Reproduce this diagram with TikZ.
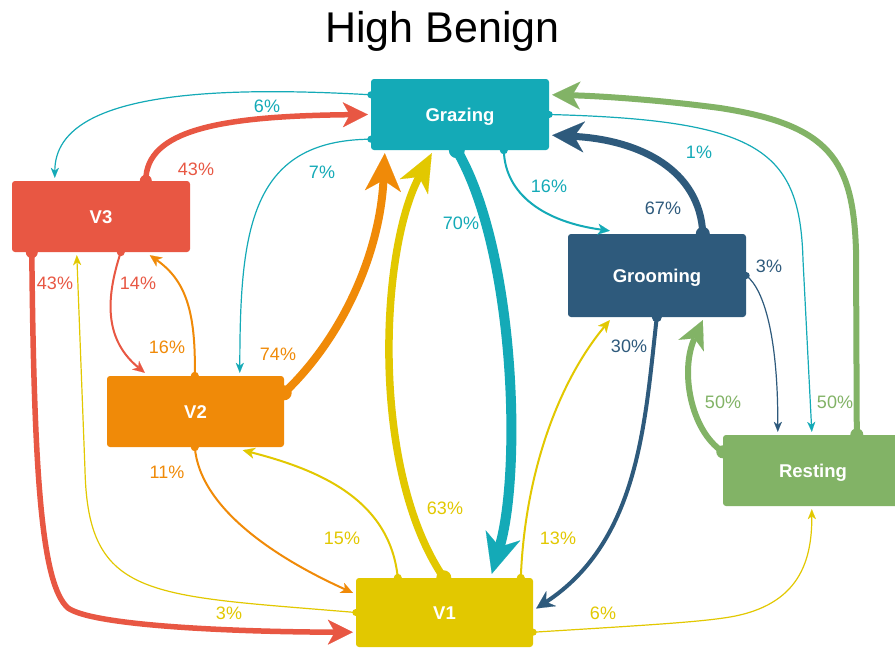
\documentclass[tikz,border=0pt]{standalone}
\usepackage{fontspec}
\setmainfont{Liberation Sans}
\usetikzlibrary{arrows.meta,calc}
\definecolor{cTeal}{HTML}{14AAB7}
\definecolor{cRed}{HTML}{E85743}
\definecolor{cOrange}{HTML}{F08A08}
\definecolor{cYellow}{HTML}{E2C800}
\definecolor{cBlue}{HTML}{2E5A7C}
\definecolor{cGreen}{HTML}{82B366}
\begin{document}
\begin{tikzpicture}[x=1pt,y=-1pt,
  box/.style={rounded corners=3pt, inner sep=0pt, text=white, font=\fontsize{18.5}{22}\selectfont\bfseries, text height=13.2pt, text depth=0pt},
  lbl/.style={inner sep=0pt, font=\fontsize{18}{21}\selectfont, text height=12.9pt, text depth=0pt},
  lwT/.style={line width=1.2pt,-{Stealth[length=10pt,width=8pt,inset=3pt,line width=0.1pt]}},
  lwS/.style={line width=2pt,-{Stealth[length=12pt,width=11pt,inset=3.5pt,line width=0.1pt]}},
  lwM/.style={line width=4pt,-{Stealth[length=18pt,width=18pt,inset=6pt,line width=0.1pt]}},
  lwR/.style={line width=5.5pt,-{Stealth[length=25pt,width=25pt,inset=7pt,line width=0.1pt]}},
  lwG/.style={line width=6pt,-{Stealth[length=28pt,width=28pt,inset=8pt,line width=0.1pt]}},
  lwB/.style={line width=7pt,-{Stealth[length=32pt,width=31pt,inset=10pt,line width=0.1pt]}},
  lwY/.style={line width=7.5pt,-{Stealth[length=38pt,width=32pt,inset=11pt,line width=0.1pt]}},
  lwO/.style={line width=8pt,-{Stealth[length=38pt,width=36pt,inset=11pt,line width=0.1pt]}},
  lwX/.style={line width=10pt,-{Stealth[length=40pt,width=36pt,inset=12pt,line width=0.1pt]}}
]
\clip (0,0) rectangle (895,649);
\fill[white] (0,0) rectangle (895,649);

\node[inner sep=0pt, font=\fontsize{43}{50}\selectfont, text height=30.8pt, text depth=0pt] (title) at (442.5,27.5) {High Benign};

\node[box, fill=cTeal, minimum width=178pt, minimum height=71pt] (graz) at (460,114.5) {Grazing};
\node[box, fill=cRed, minimum width=178pt, minimum height=71pt] (v3) at (101,216.5) {V3};
\node[box, fill=cOrange, minimum width=177pt, minimum height=71pt] (v2) at (195.5,411.5) {V2};
\node[box, fill=cBlue, minimum width=178pt, minimum height=83pt] (groom) at (657,275.5) {Grooming};
\node[box, fill=cGreen, minimum width=180pt, minimum height=71pt] (rest) at (813,470.5) {Resting};
\node[box, fill=cYellow, minimum width=177pt, minimum height=69pt] (v1) at (444.5,612.5) {V1};

% Grazing -> V3 6%
\coordinate (s1) at ($(graz.north west)+(0,16)$);
\draw[cTeal,lwT] (s1) .. controls (200,85) and (55,95) .. ($(v3.north west)+(43,-3)$);
\fill[cTeal] (s1) circle[radius=3.5pt];
% Grazing -> V2 7%
\coordinate (s2) at ($(graz.south west)+(0,-11)$);
\draw[cTeal,lwT] (s2) .. controls (250,140) and (240,230) .. ($(v2.north west)+(133,-3)$);
\fill[cTeal] (s2) circle[radius=3.5pt];
% Grazing -> Grooming 16%
\coordinate (s4) at ($(graz.south west)+(133,0)$);
\draw[cTeal,lwS] (s4) .. controls (505,195) and (545,222) .. ($(groom.north west)+(42,-3)$);
\fill[cTeal] (s4) circle[radius=4pt];
% Grazing -> Resting 1%
\coordinate (s5) at (graz.east);
\draw[cTeal,lwT] (s5) .. controls (760,120) and (800,150) .. (803,260) -- ($(rest.north west)+(89,-3)$);
\fill[cTeal] (s5) circle[radius=3.5pt];

% V3 -> Grazing 43%
\coordinate (s6) at ($(v3.north west)+(134,0)$);
\draw[cRed,lwR] (s6) .. controls (146,130) and (220,116) .. ($(graz.west)+(-3,0)$);
\fill[cRed] (s6) circle[radius=6pt];
% V3 -> V2 14%
\coordinate (s7) at ($(v3.south west)+(109,0)$);
\draw[cRed,lwS] (s7) .. controls (105,300) and (105,340) .. ($(v2.north west)+(38,-3)$);
\fill[cRed] (s7) circle[radius=4pt];
% V3 -> V1 43%
\coordinate (s8) at ($(v3.south west)+(20,0)$);
\draw[cRed,lwR] (s8) .. controls (34,480) and (42,585) .. (68,608) .. controls (95,627) and (250,632) .. ($(v1.south west)+(-3,-15)$);
\fill[cRed] (s8) circle[radius=6pt];

% V2 -> V3 16%
\coordinate (s10) at ($(v2.north west)+(88,0)$);
\draw[cOrange,lwS] (s10) .. controls (196,310) and (185,280) .. ($(v3.south west)+(138,3)$);
\fill[cOrange] (s10) circle[radius=4pt];
% V2 -> V1 11%
\coordinate (s11) at ($(v2.south west)+(88,0)$);
\draw[cOrange,lwS] (s11) .. controls (200,510) and (280,560) .. ($(v1.north west)+(-3,15)$);
\fill[cOrange] (s11) circle[radius=4pt];

% V1 -> V2 15%
\coordinate (s13) at ($(v1.north west)+(42,0)$);
\draw[cYellow,lwS] (s13) .. controls (390,500) and (320,470) .. ($(v2.south west)+(136,3)$);
\fill[cYellow] (s13) circle[radius=4pt];
% V1 -> Grooming 13%
\coordinate (s14) at ($(v1.north west)+(165,0)$);
\draw[cYellow,lwS] (s14) .. controls (525,470) and (560,380) .. ($(groom.south west)+(42,3)$);
\fill[cYellow] (s14) circle[radius=4pt];
% V1 -> V3 3%
\coordinate (s15) at (v1.west);
\draw[cYellow,lwT] (s15) .. controls (150,595) and (88,600) .. (85,470) -- ($(v3.south west)+(65,3)$);
\fill[cYellow] (s15) circle[radius=3.5pt];
% V1 -> Resting 6%
\coordinate (s16) at ($(v1.south east)+(0,-15)$);
\draw[cYellow,lwT] (s16) .. controls (650,625) and (700,622) .. (730,617) .. controls (800,605) and (812,560) .. ($(rest.south west)+(89,3)$);
\fill[cYellow] (s16) circle[radius=3.5pt];

% Grooming -> V1 30%
\coordinate (s18) at ($(groom.south west)+(89,0)$);
\draw[cBlue,lwM] (s18) .. controls (645,420) and (640,540) .. ($(v1.east)+(3,-4)$);
\fill[cBlue] (s18) circle[radius=5pt];
% Grooming -> Resting 3%
\coordinate (s19) at (groom.east);
\draw[cBlue,lwT] (s19) .. controls (765,290) and (778,340) .. ($(rest.north west)+(55,-3)$);
\fill[cBlue] (s19) circle[radius=3.5pt];
% Grooming -> Grazing 67%
\coordinate (s17) at ($(groom.north west)+(135,0)$);
\draw[cBlue,lwB] (s17) .. controls (700,170) and (640,140) .. ($(graz.south east)+(3,-15)$);
\fill[cBlue] (s17) circle[radius=7pt];

% Resting -> Grazing 50%
\coordinate (s20) at ($(rest.north west)+(134,0)$);
\draw[cGreen,lwG] (s20) -- (856,250) .. controls (853,160) and (830,125) .. (720,108) .. controls (660,100) and (600,96) .. ($(graz.north east)+(3,16)$);
\fill[cGreen] (s20) circle[radius=6.5pt];
% Resting -> Grooming 50%
\coordinate (s21) at ($(rest.north west)+(0,17)$);
\draw[cGreen,lwG] (s21) .. controls (690,430) and (680,370) .. ($(groom.south west)+(135,3)$);
\fill[cGreen] (s21) circle[radius=6.5pt];

% V2 -> Grazing 74%
\coordinate (s9) at ($(v2.north east)+(0,17)$);
\draw[cOrange,lwO] (s9) .. controls (345,335) and (380,250) .. ($(graz.south west)+(14,3)$);
\fill[cOrange] (s9) circle[radius=7.5pt];
% V1 -> Grazing 63%
\coordinate (s12) at ($(v1.north west)+(88,0)$);
\draw[cYellow,lwY] (s12) .. controls (370,470) and (380,250) .. ($(graz.south west)+(61,3)$);
\fill[cYellow] (s12) circle[radius=7.5pt];
% Grazing -> V1 70%
\coordinate (s3) at ($(graz.south west)+(86,0)$);
\draw[cTeal,lwX] (s3) .. controls (515,250) and (522,470) .. ($(v1.north west)+(136,-4)$);
\fill[cTeal] (s3) circle[radius=8pt];

% labels
\node[lbl, text=cTeal] (l1) at (267,106) {6\%};
\node[lbl, text=cTeal] (l2) at (322,172) {7\%};
\node[lbl, text=cTeal] (l3) at (461,223) {70\%};
\node[lbl, text=cTeal] (l4) at (549,186) {16\%};
\node[lbl, text=cTeal] (l5) at (699,152) {1\%};
\node[lbl, text=cRed] (l6) at (196,169) {43\%};
\node[lbl, text=cRed] (l7) at (138,283) {14\%};
\node[lbl, text=cRed] (l8) at (55,283) {43\%};
\node[lbl, text=cOrange] (l9) at (278,354) {74\%};
\node[lbl, text=cOrange] (l10) at (167,347) {16\%};
\node[lbl, text=cOrange] (l11) at (167,472) {11\%};
\node[lbl, text=cYellow] (l12) at (445,508) {63\%};
\node[lbl, text=cYellow] (l13) at (342,538) {15\%};
\node[lbl, text=cYellow] (l14) at (558,538) {13\%};
\node[lbl, text=cYellow] (l15) at (229,613) {3\%};
\node[lbl, text=cYellow] (l16) at (603,613) {6\%};
\node[lbl, text=cBlue] (l17) at (663,208) {67\%};
\node[lbl, text=cBlue] (l18) at (629,346) {30\%};
\node[lbl, text=cBlue] (l19) at (769,266) {3\%};
\node[lbl, text=cGreen] (l20) at (835,402) {50\%};
\node[lbl, text=cGreen] (l21) at (723,402) {50\%};
\end{tikzpicture}
\end{document}
